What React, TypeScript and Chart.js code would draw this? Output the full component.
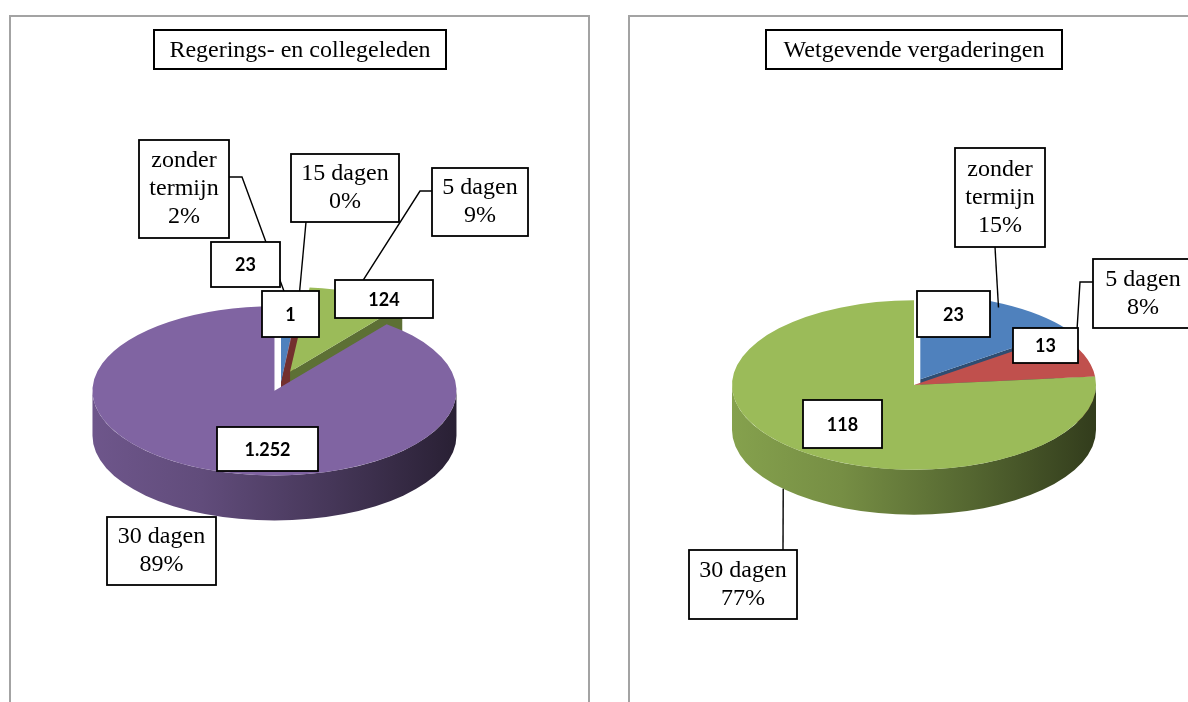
import React, { useEffect, useRef } from 'react';
import { Chart, registerables } from 'chart.js';

Chart.register(...registerables);

const PAGE_H = 702;

// Regerings- en collegeleden
const leftTitle = 'Regerings- en collegeleden';
const leftCategories = ['zonder termijn', '15 dagen', '5 dagen', '30 dagen'];
const leftValues = [23, 1, 124, 1252];
const leftColors = ['#4F81BD', '#C0504D', '#9BBB59', '#8064A2'];
const leftExplode = [0, 0, 24, 20];

// Wetgevende vergaderingen
const rightTitle = 'Wetgevende vergaderingen';
const rightCategories = ['zonder termijn', '5 dagen', '30 dagen'];
const rightValues = [23, 13, 118];
const rightColors = ['#4F81BD', '#C0504D', '#9BBB59'];
const rightExplode = [14, 0, 0];

type Box = [number, number, number, number];
type Leader = { points: [number, number][]; t: number; r: number; drop: number } | null;

interface Panel {
  title: string;
  categories: string[];
  values: number[];
  colors: string[];
  explode: number[];
  originX: number;
  width: number;
  frame: Box;
  titleBox: Box;
  center: [number, number];
  radius: number;
  tilt: number;
  depth: number;
  valueBoxes: Box[];
  categoryBoxes: Box[];
  leaders: Leader[];
}

const leftPanel: Panel = {
  title: leftTitle,
  categories: leftCategories,
  values: leftValues,
  colors: leftColors,
  explode: leftExplode,
  originX: 0,
  width: 594,
  frame: [10, 16, 579, 740],
  titleBox: [154, 30, 292, 39],
  center: [281, 382],
  radius: 182,
  tilt: 0.465,
  depth: 45,
  valueBoxes: [
    [211, 242, 69, 45],
    [262, 291, 57, 46],
    [335, 280, 98, 38],
    [217, 427, 101, 44],
  ],
  categoryBoxes: [
    [139, 140, 90, 98],
    [291, 154, 108, 68],
    [432, 168, 96, 68],
    [107, 517, 109, 68],
  ],
  leaders: [
    { points: [[229, 177], [242, 177]], t: 0.5, r: 0.9, drop: 0 },
    { points: [[306, 222]], t: 0.5, r: 0.9, drop: 0 },
    { points: [[432, 191], [420, 191]], t: 0.5, r: 0.8, drop: 0 },
    null,
  ],
};

const rightPanel: Panel = {
  title: rightTitle,
  categories: rightCategories,
  values: rightValues,
  colors: rightColors,
  explode: rightExplode,
  originX: 594,
  width: 594,
  frame: [629, 16, 640, 740],
  titleBox: [766, 30, 296, 39],
  center: [914, 385],
  radius: 182,
  tilt: 0.465,
  depth: 45,
  valueBoxes: [
    [917, 291, 73, 46],
    [1013, 328, 65, 35],
    [803, 400, 79, 48],
  ],
  categoryBoxes: [
    [955, 148, 90, 99],
    [1093, 259, 100, 69],
    [689, 550, 108, 69],
  ],
  leaders: [
    { points: [[995, 247]], t: 0.5, r: 0.95, drop: 0 },
    { points: [[1093, 282], [1080, 282]], t: 0.5, r: 0.95, drop: 0 },
    { points: [[783, 550]], t: 0.514, r: 1, drop: 1 },
  ],
};

const SERIF = '24px "Liberation Serif", "Times New Roman", serif';
const VALUE_FONT = 'bold 18px Lato, "Open Sans", sans-serif';

function shade(hex: string, f: number) {
  const n = parseInt(hex.slice(1), 16);
  const r = Math.round(((n >> 16) & 255) * f);
  const g = Math.round(((n >> 8) & 255) * f);
  const b = Math.round((n & 255) * f);
  return `rgb(${r},${g},${b})`;
}

function formatValue(v: number) {
  return String(v).replace(/\B(?=(\d{3})+(?!\d))/g, '.');
}

// Pull-out of a slice along its bisector, in un-tilted pie pixels
function displacement(arc: any, dist: number) {
  const mid = (arc.startAngle + arc.endAngle) / 2;
  return { dx: Math.cos(mid) * dist, dy: Math.sin(mid) * dist };
}

function drawBox(ctx: CanvasRenderingContext2D, b: Box, lw: number) {
  ctx.fillStyle = '#ffffff';
  ctx.fillRect(b[0], b[1], b[2], b[3]);
  ctx.lineWidth = lw;
  ctx.strokeStyle = '#000000';
  ctx.strokeRect(b[0], b[1], b[2], b[3]);
}

function wrap(ctx: CanvasRenderingContext2D, text: string, maxW: number) {
  const words = text.split(' ');
  const lines: string[] = [];
  let cur = '';
  for (const w of words) {
    const test = cur ? cur + ' ' + w : w;
    if (cur && ctx.measureText(test).width > maxW) {
      lines.push(cur);
      cur = w;
    } else {
      cur = test;
    }
  }
  if (cur) lines.push(cur);
  return lines;
}

function makePlugin(panel: Panel) {
  const s = panel.tilt;
  const depth = panel.depth;
  return {
    id: 'pie3d',
    beforeDraw(chart: any) {
      const ctx: CanvasRenderingContext2D = chart.ctx;
      ctx.save();
      ctx.translate(-panel.originX, 0);
      const f = panel.frame;
      ctx.strokeStyle = '#a3a3a3';
      ctx.lineWidth = 2;
      ctx.strokeRect(f[0], f[1], f[2], f[3]);
      ctx.restore();
    },
    beforeDatasetsDraw(chart: any) {
      const ctx: CanvasRenderingContext2D = chart.ctx;
      const arcs: any[] = chart.getDatasetMeta(0).data;
      const colors = panel.colors;

      // radial cut faces that turn toward the viewer
      arcs.forEach((arc, i) => {
        const { dx, dy } = displacement(arc, panel.explode[i]);
        const cx = arc.x + dx;
        const cy = arc.y + dy * s;
        const R = arc.outerRadius;
        const faces: [number, boolean][] = [
          [arc.startAngle, Math.cos(arc.startAngle) < -1e-3],
          [arc.endAngle, Math.cos(arc.endAngle) > 1e-3],
        ];
        faces.forEach(([a, visible]) => {
          if (!visible) return;
          const px = cx + R * Math.cos(a);
          const py = cy + R * s * Math.sin(a);
          ctx.beginPath();
          ctx.moveTo(cx, cy);
          ctx.lineTo(px, py);
          ctx.lineTo(px, py + depth);
          ctx.lineTo(cx, cy + depth);
          ctx.closePath();
          ctx.fillStyle = shade(colors[i], 0.6);
          ctx.fill();
        });
      });

      // front rims
      arcs.forEach((arc, i) => {
        const a0 = Math.max(arc.startAngle, 0);
        const a1 = Math.min(arc.endAngle, Math.PI);
        if (a1 <= a0) return;
        const { dx, dy } = displacement(arc, panel.explode[i]);
        const cx = arc.x + dx;
        const cy = arc.y + dy * s;
        const R = arc.outerRadius;
        const c = colors[i];
        const g = ctx.createLinearGradient(cx - R, 0, cx + R, 0);
        g.addColorStop(0, shade(c, 0.86));
        g.addColorStop(0.3, shade(c, 0.76));
        g.addColorStop(0.65, shade(c, 0.55));
        g.addColorStop(1, shade(c, 0.32));
        ctx.beginPath();
        ctx.ellipse(cx, cy, R, R * s, 0, a0, a1, false);
        ctx.ellipse(cx, cy + depth, R, R * s, 0, a1, a0, true);
        ctx.closePath();
        ctx.fillStyle = g;
        ctx.fill();
      });

      // tops: each library arc drawn squashed into an ellipse and pulled out
      arcs.forEach((arc, i) => {
        const { dx, dy } = displacement(arc, panel.explode[i]);
        ctx.save();
        ctx.translate(0, arc.y);
        ctx.scale(1, s);
        ctx.translate(0, -arc.y);
        ctx.translate(dx, dy);
        arc.draw(ctx);
        ctx.restore();
      });
      return false;
    },
    afterDraw(chart: any) {
      const ctx: CanvasRenderingContext2D = chart.ctx;
      const arcs: any[] = chart.getDatasetMeta(0).data;
      const total = panel.values.reduce((a, b) => a + b, 0);
      ctx.save();
      ctx.translate(-panel.originX, 0);

      // title
      drawBox(ctx, panel.titleBox, 2);
      ctx.fillStyle = '#000';
      ctx.font = SERIF;
      ctx.textAlign = 'center';
      ctx.textBaseline = 'middle';
      const tb = panel.titleBox;
      ctx.fillText(panel.title, tb[0] + tb[2] / 2, tb[1] + tb[3] / 2 + 1);

      // leader lines
      ctx.strokeStyle = '#000';
      ctx.lineWidth = 1.4;
      panel.leaders.forEach((ld, i) => {
        if (!ld) return;
        const arc = arcs[i];
        const { dx, dy } = displacement(arc, panel.explode[i]);
        const a = arc.startAngle + (arc.endAngle - arc.startAngle) * ld.t;
        const R = arc.outerRadius * ld.r;
        const ax = arc.x + dx + R * Math.cos(a) + panel.originX;
        const ay = arc.y + (dy + R * Math.sin(a)) * s + depth * ld.drop;
        ctx.beginPath();
        ld.points.forEach((p, k) => (k === 0 ? ctx.moveTo(p[0], p[1]) : ctx.lineTo(p[0], p[1])));
        ctx.lineTo(ax, ay);
        ctx.stroke();
      });

      // value labels
      panel.valueBoxes.forEach((b, i) => {
        drawBox(ctx, b, 1.8);
        ctx.fillStyle = '#000';
        ctx.font = VALUE_FONT;
        ctx.textAlign = 'center';
        ctx.textBaseline = 'middle';
        ctx.fillText(formatValue(panel.values[i]), b[0] + b[2] / 2, b[1] + b[3] / 2 + 1);
      });

      // category labels with share
      panel.categoryBoxes.forEach((b, i) => {
        drawBox(ctx, b, 1.8);
        ctx.fillStyle = '#000';
        ctx.font = SERIF;
        ctx.textAlign = 'center';
        ctx.textBaseline = 'middle';
        const pct = Math.round((panel.values[i] / total) * 100) + '%';
        const lines = [...wrap(ctx, panel.categories[i], b[2] - 6), pct];
        const lh = 28;
        const y0 = b[1] + b[3] / 2 - ((lines.length - 1) * lh) / 2;
        lines.forEach((ln, k) => ctx.fillText(ln, b[0] + b[2] / 2, y0 + k * lh));
      });

      ctx.restore();
    },
  };
}

function PiePanel({ panel }: { panel: Panel }) {
  const ref = useRef<HTMLCanvasElement>(null);
  useEffect(() => {
    const cxLocal = panel.center[0] - panel.originX;
    const cyLocal = panel.center[1];
    const padLeft = Math.max(0, 2 * cxLocal - panel.width);
    const padRight = Math.max(0, panel.width - 2 * cxLocal);
    const padTop = Math.max(0, 2 * cyLocal - PAGE_H);
    const padBottom = Math.max(0, PAGE_H - 2 * cyLocal);
    const chart = new Chart(ref.current as HTMLCanvasElement, {
      type: 'pie',
      data: {
        labels: panel.categories,
        datasets: [
          {
            data: panel.values,
            backgroundColor: panel.colors,
            borderWidth: 0,
            offset: 0,
            hoverOffset: 0,
            radius: panel.radius,
            clip: false,
          } as any,
        ],
      },
      options: {
        responsive: false,
        animation: false,
        events: [],
        layout: { padding: { left: padLeft, right: padRight, top: padTop, bottom: padBottom } },
        plugins: { legend: { display: false }, tooltip: { enabled: false } },
      } as any,
      plugins: [makePlugin(panel) as any],
    });
    return () => chart.destroy();
  }, [panel]);
  return (
    <canvas
      ref={ref}
      width={panel.width}
      height={PAGE_H}
      style={{ position: 'absolute', left: panel.originX, top: 0, width: panel.width, height: PAGE_H }}
    />
  );
}

export default function App() {
  return (
    <div
      style={{
        position: 'fixed',
        left: 0,
        top: 0,
        width: 1188,
        height: PAGE_H,
        overflow: 'hidden',
        background: '#ffffff',
      }}
    >
      <PiePanel panel={leftPanel} />
      <PiePanel panel={rightPanel} />
    </div>
  );
}
